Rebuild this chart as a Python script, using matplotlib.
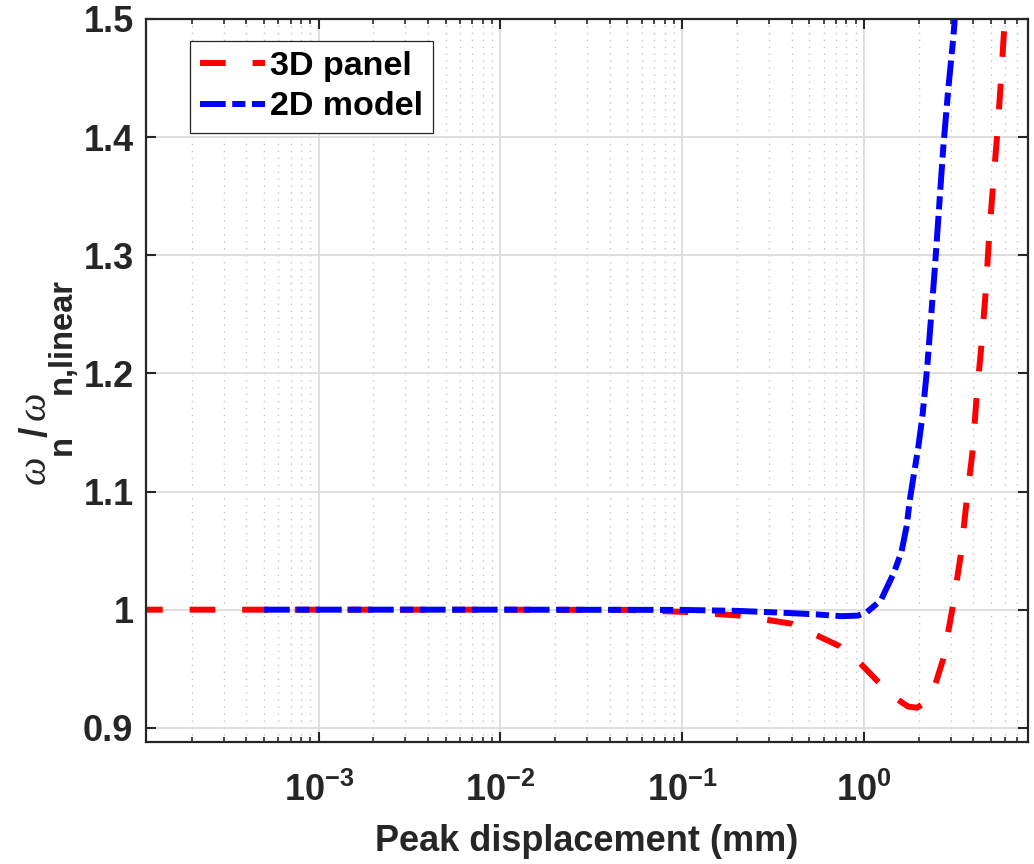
import numpy as np
import matplotlib
matplotlib.use("Agg")
import matplotlib.pyplot as plt
from matplotlib.ticker import FixedLocator, FixedFormatter, LogLocator, NullFormatter

# Frequency ratio vs. peak displacement for the two models
disp_3d = [1e-4, 1e-3, 1e-2, 0.05, 0.107, 0.208, 0.405, 0.738, 0.95, 1.18, 1.5, 1.75,
           1.96, 2.2, 2.45, 2.73, 3.08, 3.41, 3.67, 3.97, 4.17, 4.44, 4.68, 4.88, 5.13,
           5.42, 5.68, 5.9, 6.05]
ratio_3d = [1.0, 1.0, 1.0, 0.9998, 0.998, 0.995, 0.988, 0.969, 0.955, 0.94, 0.925, 0.918,
            0.917, 0.922, 0.935, 0.958, 1.002, 1.046, 1.091, 1.135, 1.18, 1.225, 1.269, 1.314, 1.358,
            1.403, 1.448, 1.489, 1.51]

disp_2d = [5e-4, 1e-3, 1e-2, 0.1, 0.2, 0.35, 0.55, 0.75, 0.93, 1.04, 1.24, 1.46, 1.61,
           1.72, 1.79, 1.89, 1.99, 2.1, 2.23, 2.46, 2.73, 2.91, 3.1, 3.2]
ratio_2d = [1.0, 1.0, 1.0, 0.9998, 0.999, 0.9975, 0.996, 0.9945, 0.995, 0.998, 1.008, 1.031, 1.049,
            1.071, 1.093, 1.116, 1.137, 1.164, 1.205, 1.29, 1.39, 1.44, 1.483, 1.51]

xticks = [1e-3, 1e-2, 1e-1, 1e0]
xticklabels = [r'$\mathbf{10^{-3}}$', r'$\mathbf{10^{-2}}$', r'$\mathbf{10^{-1}}$', r'$\mathbf{10^{0}}$']
yticks = [0.9, 1.0, 1.1, 1.2, 1.3, 1.4, 1.5]
yticklabels = ['0.9', '1', '1.1', '1.2', '1.3', '1.4', '1.5']

plt.rcParams['font.family'] = ['Liberation Sans', 'DejaVu Sans']
plt.rcParams['font.weight'] = 'bold'
plt.rcParams['mathtext.fontset'] = 'custom'
plt.rcParams['mathtext.rm'] = 'Liberation Sans:bold'
plt.rcParams['mathtext.bf'] = 'Liberation Sans:bold'
plt.rcParams['mathtext.it'] = 'Liberation Serif:italic'

dark = '#262626'
W, H = 1034, 864

fig = plt.figure(figsize=(W / 100, H / 100), dpi=100)
ax = fig.add_axes([146 / W, 1 - 742 / H, 882 / W, 723 / H])

lw = 4.3
ax.plot(disp_3d, ratio_3d, color='red', lw=lw, dashes=(4.3, 4.5), label='3D panel',
        solid_capstyle='butt', dash_capstyle='butt')
ax.plot(disp_2d, ratio_2d, color='blue', lw=lw, dashes=(4.3, 1.1, 2.2, 1.1), label='2D model',
        solid_capstyle='butt', dash_capstyle='butt')

ax.set_xscale('log')
ax.set_xlim(1.12e-4, 8.0)
ax.set_ylim(0.888, 1.5)

ax.xaxis.set_major_locator(FixedLocator(xticks))
ax.xaxis.set_major_formatter(FixedFormatter(xticklabels))
ax.xaxis.set_minor_locator(LogLocator(base=10, subs=np.arange(2, 10), numticks=20))
ax.xaxis.set_minor_formatter(NullFormatter())
ax.yaxis.set_major_locator(FixedLocator(yticks))
ax.yaxis.set_major_formatter(FixedFormatter(yticklabels))

ax.grid(True, which='major', color='#dcdcdc', lw=1.3)
ax.grid(True, which='minor', axis='x', color='#c4c4c4', lw=1.0, linestyle=(0, (1, 4)))
ax.set_axisbelow(True)

ax.tick_params(which='both', direction='in', top=True, right=True, color=dark,
               labelsize=26, labelcolor=dark)
ax.tick_params(which='major', length=7, width=1.5)
ax.tick_params(which='minor', length=3.6, width=1.2)
ax.tick_params(axis='x', pad=22)
ax.tick_params(axis='y', pad=9)
for lab in ax.get_yticklabels():
    lab.set_fontweight('bold')
for sp in ax.spines.values():
    sp.set_color(dark)
    sp.set_linewidth(1.6)

ax.set_xlabel('Peak displacement (mm)', fontsize=26, fontweight='bold', color=dark, labelpad=11)

# y label built from pieces: (text, x of baseline px, start y px, size, style)
ylab_parts = [
    ('\u03c9', 45, 484, 29, 'italic'),
    ('n', 71, 455, 23.5, 'bold'),
    ('/', 47, 437, 27, 'bold'),
    ('\u03c9', 45, 420, 29, 'italic'),
    ('n,linear', 71, 394, 23.5, 'bold'),
]
for s, bx, by, size, style in ylab_parts:
    if style == 'italic':
        fig.text(bx / W, 1 - by / H, s, rotation=90, rotation_mode='anchor', ha='left',
                 va='baseline', fontsize=size, family='Liberation Serif', style='italic',
                 fontweight='normal', color=dark)
    else:
        fig.text(bx / W, 1 - by / H, s, rotation=90, rotation_mode='anchor', ha='left',
                 va='baseline', fontsize=size, fontweight='bold', color=dark)

leg = ax.legend(loc='upper left', bbox_to_anchor=(0.05, 0.97), borderaxespad=0,
                fontsize=24.5, frameon=True, fancybox=False, framealpha=1,
                handlelength=1.9, handletextpad=0.15, borderpad=0.3, labelspacing=0.28)
leg.get_frame().set_edgecolor(dark)
leg.get_frame().set_linewidth(0.9)
for t in leg.get_texts():
    t.set_fontweight('bold')

fig.savefig('out.png', dpi=100)
